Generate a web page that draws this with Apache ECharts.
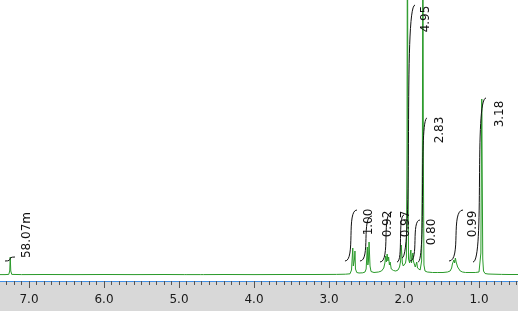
<!DOCTYPE html>
<html>
<head>
<meta charset="utf-8">
<script src="https://cdn.jsdelivr.net/npm/echarts@6/dist/echarts.min.js"></script>
<style>html,body{margin:0;padding:0;background:#fff}#c{width:518px;height:311px}</style>
</head>
<body>
<div id="c"></div>
<script>
// Spectrum: [ppm, intensity]
var spectrum = [
  [7.39,0.4],[7.32,0.4],[7.27,0.6],[7.257,4],[7.25,18],[7.243,4],[7.23,0.6],[7.10,0.4],
  [6.80,0.5],[6.40,0.4],[6.00,0.5],[5.60,0.4],[5.20,0.5],[4.93,0.4],[4.91,1.6],[4.895,0.4],
  [4.71,0.4],[4.69,1.8],[4.675,0.4],[4.40,0.5],[4.00,0.4],[3.60,0.5],[3.20,0.5],[2.90,0.6],
  [2.78,0.8],[2.72,1.2],[2.70,5],[2.69,18],[2.683,27],[2.676,9],[2.668,7],[2.66,16],[2.654,24],[2.647,6],
  [2.63,2.5],[2.60,2],[2.55,2.2],[2.52,3],[2.505,6],[2.495,20],[2.489,28],[2.482,10],[2.474,14],
  [2.466,33],[2.46,35],[2.453,9],[2.44,3.5],[2.40,2.5],[2.34,3],[2.30,4],[2.27,7],[2.255,12],
  [2.245,19],[2.235,13],[2.225,21],[2.215,14],[2.205,18],[2.195,10],[2.185,13],[2.17,6],[2.155,8],
  [2.14,4.5],[2.11,4],[2.08,5],[2.06,8],[2.045,14],[2.037,30],[2.03,28],[2.022,12],[2.01,9],
  [1.995,10],[1.98,12],[1.968,18],[1.96,130],[1.954,400],[1.948,130],[1.94,16],[1.925,12],
  [1.915,22],[1.908,25],[1.90,12],[1.89,14],[1.882,22],[1.875,14],[1.865,12],[1.858,16],[1.85,8],
  [1.838,10],[1.83,13],[1.82,7],[1.80,6],[1.785,5],[1.765,14],[1.755,120],[1.748,400],[1.742,120],
  [1.734,10],[1.72,4],[1.69,3],[1.62,2.5],[1.55,2.5],[1.48,2.5],[1.42,3],[1.385,4],[1.365,7],
  [1.355,11],[1.345,9],[1.335,15],[1.325,12],[1.315,17],[1.305,13],[1.295,14],[1.285,8],[1.27,6],
  [1.25,4],[1.22,3],[1.18,2.5],[1.12,2.5],[1.05,2.5],[1.00,3],[0.985,5],[0.975,22],[0.968,120],
  [0.963,176],[0.958,112],[0.95,16],[0.94,4],[0.92,1.5],[0.88,1],[0.80,0.8],[0.70,0.6],[0.60,0.5],[0.48,0.5]
];
// Integrals: [ppmStart, ppmEnd, valueBottom, valueTop]
var integrals = [
  [7.32,7.187,14,18],
  [2.787,2.627,14,65],
  [2.587,2.427,14,59],
  [2.32,2.16,13,63],
  [2.093,2.0,13,60],
  [2.027,1.853,17,270],
  [1.92,1.787,14,55],
  [1.813,1.693,13,157],
  [1.40,1.213,14,65],
  [1.08,0.907,13,177]
];
// Integral labels: [ppm, value at label centre]
var labelPos = [
  [7.027,40],[2.467,53],[2.213,51],[1.973,51],[1.713,256],[1.627,43],[1.52,145],[1.08,51],[0.72,161]
];
var labelTexts = ['58.07m','1.00','0.92','0.97','4.95','0.80','2.83','0.99','3.18'];
// Axis ticks
var majorTicks = [1.0,2.0,3.0,4.0,5.0,6.0,7.0];
var majorTickLabels = ['1.0','2.0','3.0','4.0','5.0','6.0','7.0'];
var minorTicks = [0.5,0.6,0.7,0.8,0.9,1.0,1.1,1.2,1.3,1.4,1.5,1.6,1.7,1.8,1.9,2.0,2.1,2.2,2.3,2.4,2.5,2.6,2.7,2.8,2.9,
  3.0,3.1,3.2,3.3,3.4,3.5,3.6,3.7,3.8,3.9,4.0,4.1,4.2,4.3,4.4,4.5,4.6,4.7,4.8,4.9,5.0,5.1,5.2,5.3,5.4,5.5,5.6,5.7,5.8,5.9,
  6.0,6.1,6.2,6.3,6.4,6.5,6.6,6.7,6.8,6.9,7.0,7.1,7.2,7.3];

var XMIN = 0.48, XMAX = 7.3867;
var chart = echarts.init(document.getElementById('c'), null, {renderer:'canvas'});
var FONT = '"DejaVu Sans", sans-serif';
chart.setOption({
  animation:false,
  backgroundColor:'#ffffff',
  graphic:[{type:'rect', z:-10, silent:true, shape:{x:0,y:282,width:518,height:29}, style:{fill:'#d8d8d8'}}],
  grid:{left:0,right:0,top:0,bottom:30,containLabel:false},
  xAxis:[{
    type:'value', inverse:true, min:XMIN, max:XMAX, position:'bottom', z:5,
    axisLine:{show:true, onZero:false, lineStyle:{color:'#3f8fe6', width:1}},
    axisTick:{show:true, customValues:majorTicks, length:7, lineStyle:{color:'#555'}},
    axisLabel:{show:true, customValues:majorTicks, margin:13, color:'#1a1a1a', fontSize:12, fontFamily:FONT,
      formatter:function(v){ var i = majorTicks.indexOf(Math.round(v*10)/10); return i>=0?majorTickLabels[i]:''; }},
    splitLine:{show:false}
  },{
    type:'value', inverse:true, min:XMIN, max:XMAX, position:'bottom', z:5,
    axisLine:{show:false, onZero:false},
    axisTick:{show:true, customValues:minorTicks, length:4, lineStyle:{color:'#555'}},
    axisLabel:{show:false}, splitLine:{show:false}
  }],
  yAxis:{type:'value', min:-6, max:275, show:false, splitLine:{show:false}},
  series:[{
    type:'line', data:spectrum, showSymbol:false, symbol:'none', smooth:false, clip:true,
    lineStyle:{color:'#2a9a2a', width:1}, z:2
  },{
    type:'custom', data:integrals, clip:true, z:3,
    renderItem:function(params, api){
      var p1 = api.coord([api.value(0), api.value(2)]);
      var p2 = api.coord([api.value(1), api.value(3)]);
      var dx = p2[0]-p1[0], k = 0.9;
      var d = 'M'+p1[0]+' '+p1[1]+' C'+(p1[0]+k*dx)+' '+p1[1]+' '+(p2[0]-k*dx)+' '+p2[1]+' '+p2[0]+' '+p2[1];
      return {type:'path', shape:{pathData:d}, style:{stroke:'#111', lineWidth:1, fill:null}};
    }
  },{
    type:'custom', data:labelPos, clip:false, z:4,
    renderItem:function(params, api){
      var p = api.coord([api.value(0), api.value(1)]);
      return {type:'text', x:p[0], y:p[1], rotation:Math.PI/2,
        style:{text:labelTexts[params.dataIndex], fill:'#111', font:'12px '+FONT, align:'center', verticalAlign:'middle'}};
    }
  }]
});
</script>
</body>
</html>
